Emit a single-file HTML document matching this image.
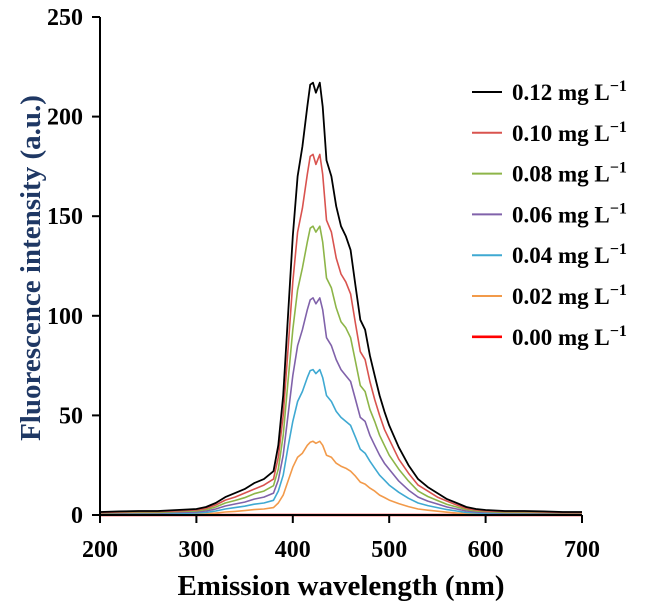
<!DOCTYPE html>
<html><head><meta charset="utf-8">
<style>
html,body{margin:0;padding:0;background:#fff;}
svg{display:block;font-family:"Liberation Serif",serif;font-weight:bold;}
</style></head>
<body>
<svg id="chart" width="645" height="613" viewBox="0 0 645 613" xmlns="http://www.w3.org/2000/svg">
<g id="series"></g>
<g id="axes"></g>
<g id="legend"></g>
<text x="341" y="595" font-size="29" text-anchor="middle" fill="#000">Emission wavelength (nm)</text>
<text transform="translate(40,268) rotate(-90)" font-size="29" text-anchor="middle" fill="#1f3864">Fluorescence intensity (a.u.)</text>
</svg>
<script>
const wavelengths=[200,220,240,260,280,300,310,320,330,340,350,360,370,380,385,390,395,400,405,410,415,418,421,424,428,431,435,440,445,450,455,460,465,470,475,480,485,490,495,500,510,520,530,540,550,560,570,580,590,600,620,640,660,680,700];
const s012=[1.5,1.8,2,2,2.5,3,4,6,9,11,13,16,18,22,35,60,100,140,170,185,205,216,217,212,217,205,178,170,155,145,140,133,115,98,93,80,70,60,52,45,34,25,18,14,11,8,6,4,3,2.5,2,2,1.8,1.5,1.5];
const s010=[1.2,1.5,1.7,1.7,2,2.5,3.3,5,7.5,9,11,13,15,18,29,50,83,117,142,154,171,180,181,176,181,171,148,142,129,121,117,111,96,82,78,67,58,50,43,38,28,21,15,12,9,7,5,3.3,2.5,2,1.7,1.7,1.5,1.2,1.2];
const s008=[1,1.2,1.3,1.3,1.7,2,2.7,4,6,7.3,8.7,10.7,12,14.7,23,40,67,93,113,124,137,144,145,142,145,137,119,114,104,97,94,89,77,65,62,53,47,40,35,30,23,17,12,9.3,7.3,5.3,4,2.7,2,1.7,1.3,1.3,1.2,1,1];
const s006=[.8,.9,1,1,1.3,1.5,2,3,4.5,5.5,6.5,8,9,11,17.5,30,50,70,85,93,103,108,109,106,109,103,89,85,78,73,70,67,58,49,47,40,35,30,26,23,17,12.5,9,7,5.5,4,3,2,1.5,1.3,1,1,.9,.8,.8];
const s004=[.5,.6,.7,.7,.8,1,1.3,2,3,3.7,4.4,5.4,6,7.4,12,20,34,47,57,62,69,72.5,73,71,73,69,60,57,52,49,47,45,39,33,31,27,23.5,20,17.5,15,11.4,8.4,6,4.7,3.7,2.7,2,1.3,1,.8,.7,.7,.6,.5,.5];
const s002=[.3,.3,.3,.3,.4,.5,.6,1,1.5,1.8,2.2,2.7,3,3.7,6,10,17,24,29,31,35,36.5,37,36,37,35,30,29,26,24.5,23.5,22,19.5,16.5,15.5,13.5,12,10,8.8,7.5,5.7,4.2,3,2.4,1.9,1.4,1,.7,.5,.4,.3,.3,.3,.3,.3];
const s000=[0,0,0,0,0,0,0,0,0,0,0,0,0,0,0,0,0,0,0,0,0,0,0,0,0,0,0,0,0,0,0,0,0,0,0,0,0,0,0,0,0,0,0,0,0,0,0,0,0,0,0,0,0,0,0];
const seriesLabels=["0.12 mg L","0.10 mg L","0.08 mg L","0.06 mg L","0.04 mg L","0.02 mg L","0.00 mg L"];
const xTicks=[200,300,400,500,600,700];
const yTicks=[0,50,100,150,200,250];

const NS="http://www.w3.org/2000/svg";
const X0=100,X1=582,Y0=515,Y1=17;
function xs(v){return X0+(v-200)/(700-200)*(X1-X0);}
function ys(v){return Y0-(v-0)/(250-0)*(Y0-Y1);}
function mk(tag,attrs,parent){const e=document.createElementNS(NS,tag);for(const k in attrs)e.setAttribute(k,attrs[k]);parent.appendChild(e);return e;}

const allSeries=[s012,s010,s008,s006,s004,s002,s000];
const colors=["#000000","#d9534f","#8db548","#8062aa","#3fa9d2","#f29a4a","#ff0000"];
const widths=[1.8,1.6,1.6,1.6,1.6,1.6,2.6];
const names=["series-012","series-010","series-008","series-006","series-004","series-002","series-000"];
const sg=document.getElementById('series');
for(let s=allSeries.length-1;s>=0;s--){
  const d=allSeries[s].map((v,i)=>(i?'L':'M')+xs(wavelengths[i]).toFixed(1)+' '+ys(v).toFixed(1)).join(' ');
  const p=mk('path',{d:d,fill:'none',stroke:colors[s],'stroke-width':widths[s],'stroke-linejoin':'round'},sg);
  
  
}
const ax=document.getElementById('axes');
const xl=mk('line',{x1:X0,y1:Y0,x2:X1,y2:Y0,stroke:'#000','stroke-width':2},ax);


const yl=mk('line',{x1:X0,y1:Y0+1,x2:X0,y2:Y1,stroke:'#000','stroke-width':2},ax);


xTicks.forEach(t=>{
  const tk=mk('line',{x1:xs(t),y1:Y0,x2:xs(t),y2:Y0+8,stroke:'#000','stroke-width':2},ax);
  
  
  const tx=mk('text',{x:xs(t),y:557,'font-size':24,'text-anchor':'middle',fill:'#000'},ax);
  tx.textContent=t;
  
  
});
yTicks.forEach(t=>{
  const tk=mk('line',{x1:X0-8,y1:ys(t),x2:X0,y2:ys(t),stroke:'#000','stroke-width':2},ax);
  
  
  const tx=mk('text',{x:83,y:ys(t)+8,'font-size':24,'text-anchor':'end',fill:'#000'},ax);
  tx.textContent=t;
  
  
});
const lg=document.getElementById('legend');
seriesLabels.forEach((lab,i)=>{
  const y=92+40.8*i;
  const ln=mk('line',{x1:472,y1:y,x2:502,y2:y,stroke:colors[i],'stroke-width':i==6?2.6:2},lg);
  
  
  const tx=mk('text',{x:512,y:y+8,'font-size':23,fill:'#000'},lg);
  
  
  const t1=mk('tspan',{},tx);
  t1.textContent=lab;
  const t2=mk('tspan',{dy:-9,'font-size':16},tx);
  t2.textContent="\u2212\u0031";
});
</script>
</body></html>
